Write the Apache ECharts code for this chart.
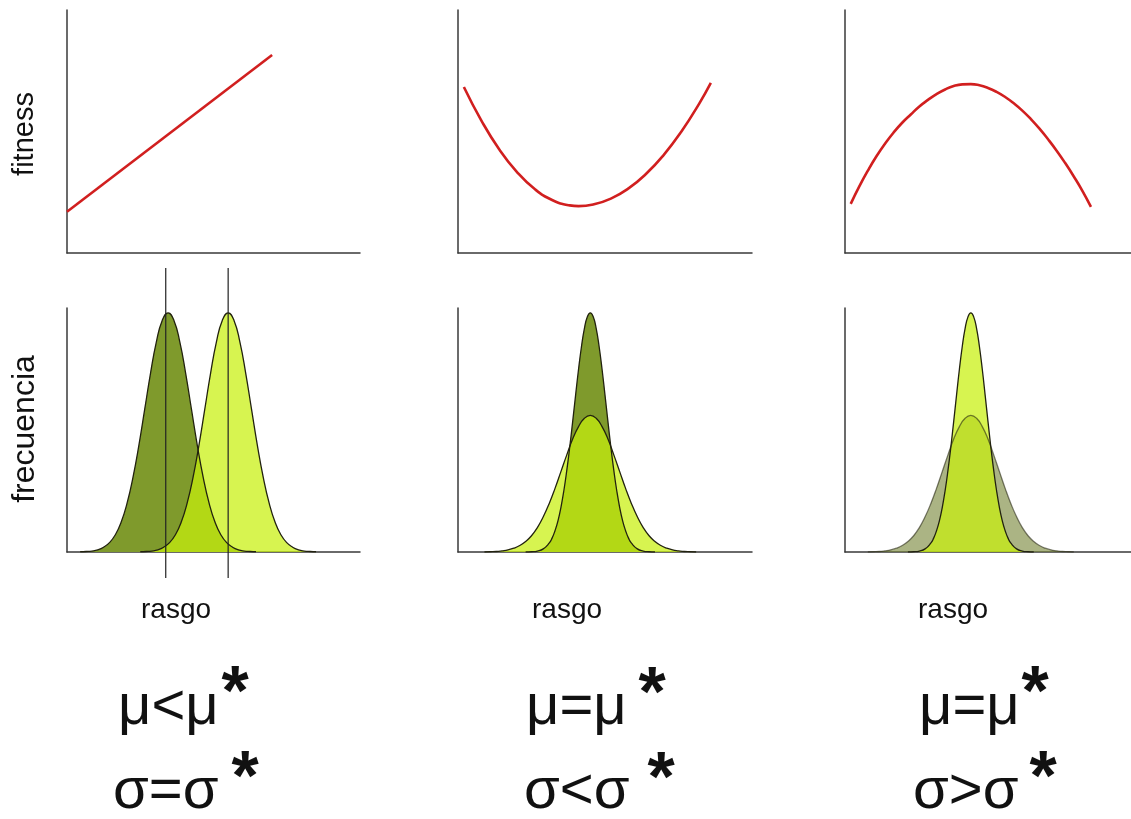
<!DOCTYPE html>
<html>
<head>
<meta charset="UTF-8">
<title>seleccion</title>
<script src="https://cdn.jsdelivr.net/npm/echarts@6/dist/echarts.min.js"></script>
<style>
  html, body { margin: 0; padding: 0; background: #fff; }
  #main { width: 1131px; height: 819px; }
</style>
</head>
<body>
<div id="main"></div>
<script>
// fila de arriba: fitness vs rasgo
var rasgoLineal = [0, 70];
var fitnessLineal = [17, 81.5];
var rasgoU = [2, 8, 14, 20, 26, 32, 38, 41, 46, 52, 58, 64, 70, 76, 82, 86];
var fitnessU = [68.3, 54.4, 42.7, 33.4, 26.4, 21.8, 19.6, 19.3, 20.0, 22.4, 26.6, 32.6, 40.4, 50.0, 61.4, 70.0];
var rasgoArco = [2, 5, 8, 11, 14, 17, 20, 23, 26, 29, 32, 35, 38, 41, 44, 47, 50, 53, 56, 59, 62, 65, 68, 71, 74, 77, 80, 83, 86];
var fitnessArco = [20.2, 27.4, 33.9, 39.8, 45.0, 49.6, 53.6, 57.0, 60.3, 63.0, 65.4, 67.3, 68.7, 69.4, 69.5, 69.0, 67.9, 66.3, 64.2, 61.6, 58.6, 55.1, 51.2, 46.8, 42.1, 37.0, 31.5, 25.6, 19.0];

// fila de abajo: frecuencia vs rasgo
var frecMedia = [0.1, 0.2, 0.4, 0.9, 2.0, 3.9, 7.2, 12.5, 20.4, 31.1, 44.4, 59.5, 74.7, 87.8, 96.8, 100,
                 96.8, 87.8, 74.7, 59.5, 44.4, 31.1, 20.4, 12.5, 7.2, 3.9, 2.0, 0.9, 0.4, 0.2, 0.1];
var rasgoOscura1 = [4.5, 6.5, 8.5, 10.5, 12.5, 14.5, 16.5, 18.5, 20.5, 22.5, 24.5, 26.5, 28.5, 30.5, 32.5, 34.5,
                    36.5, 38.5, 40.5, 42.5, 44.5, 46.5, 48.5, 50.5, 52.5, 54.5, 56.5, 58.5, 60.5, 62.5, 64.5];
var rasgoClara1 = [25, 27, 29, 31, 33, 35, 37, 39, 41, 43, 45, 47, 49, 51, 53, 55,
                   57, 59, 61, 63, 65, 67, 69, 71, 73, 75, 77, 79, 81, 83, 85];
var lineasMedia1 = [33.7, 55];

var frecEstrecha = [0, 0.1, 0.4, 1.3, 3.7, 5.8, 8.9, 13.0, 18.6, 25.6, 34.1, 43.8, 54.5, 65.6, 76.4, 85.9, 93.5, 98.3, 100,
                    98.3, 93.5, 85.9, 76.4, 65.6, 54.5, 43.8, 34.1, 25.6, 18.6, 13.0, 8.9, 5.8, 3.7, 1.3, 0.4, 0.1, 0];
var frecAncha = [0, 0.1, 0.2, 0.5, 0.9, 1.6, 2.7, 4.4, 6.8, 10.2, 14.7, 20.2, 26.6, 33.6, 40.6, 47.2, 52.4, 55.9, 57.1,
                 55.9, 52.4, 47.2, 40.6, 33.6, 26.6, 20.2, 14.7, 10.2, 6.8, 4.4, 2.7, 1.6, 0.9, 0.5, 0.2, 0.1, 0];
var rasgoEstrecha2 = [23, 25, 27, 29, 31, 32, 33, 34, 35, 36, 37, 38, 39, 40, 41, 42, 43, 44, 45,
                      46, 47, 48, 49, 50, 51, 52, 53, 54, 55, 56, 57, 58, 59, 61, 63, 65, 67];
var rasgoAncha2 = [9, 11, 13, 15, 17, 19, 21, 23, 25, 27, 29, 31, 33, 35, 37, 39, 41, 43, 45,
                   47, 49, 51, 53, 55, 57, 59, 61, 63, 65, 67, 69, 71, 73, 75, 77, 79, 81];
var rasgoEstrecha3 = [22, 24, 26, 28, 30, 31, 32, 33, 34, 35, 36, 37, 38, 39, 40, 41, 42, 43, 44,
                      45, 46, 47, 48, 49, 50, 51, 52, 53, 54, 55, 56, 57, 58, 60, 62, 64, 66];
var rasgoAncha3 = [8, 10, 12, 14, 16, 18, 20, 22, 24, 26, 28, 30, 32, 34, 36, 38, 40, 42, 44,
                   46, 48, 50, 52, 54, 56, 58, 60, 62, 64, 66, 68, 70, 72, 74, 76, 78, 80];

var oscuro = '#7f9a2c';
var claro = 'rgba(200,240,12,0.72)';
var oscuroTransp = 'rgba(115,130,50,0.6)';
var rojo = '#d11f1f';
var fuente = '"Liberation Sans", Arial, sans-serif';

function zip(xs, ys) {
  var out = [];
  for (var i = 0; i < xs.length; i++) out.push([xs[i], ys[i]]);
  return out;
}

var grids = [
  {left: 67, top: 10, width: 293, height: 243},
  {left: 458, top: 10, width: 294, height: 243},
  {left: 845, top: 10, width: 294, height: 243},
  {left: 67, top: 308, width: 293, height: 244},
  {left: 458, top: 308, width: 294, height: 244},
  {left: 845, top: 308, width: 294, height: 244},
  {left: 67, top: 268, width: 293, height: 310}
];
var ejeLinea = {show: true, onZero: false, lineStyle: {color: '#3a3a3a', width: 1.5}};

var xAxes = [], yAxes = [];
grids.forEach(function (g, i) {
  xAxes.push({gridIndex: i, type: 'value', min: 0, max: 100,
    axisLine: i < 6 ? ejeLinea : {show: false},
    axisTick: {show: false}, axisLabel: {show: false}, splitLine: {show: false}});
  yAxes.push({gridIndex: i, type: 'value', min: 0, max: i < 3 ? 100 : (i < 6 ? 102 : 1),
    axisLine: i < 6 ? ejeLinea : {show: false},
    axisTick: {show: false}, axisLabel: {show: false}, splitLine: {show: false}});
});

function rojaSerie(idx, xs, ys) {
  return {type: 'line', xAxisIndex: idx, yAxisIndex: idx, data: zip(xs, ys),
    smooth: true, symbol: 'none', lineStyle: {color: rojo, width: 2.6}};
}
function campana(idx, xs, ys, fill, borde) {
  return {type: 'line', xAxisIndex: idx, yAxisIndex: idx, data: zip(xs, ys),
    smooth: true, symbol: 'none',
    lineStyle: {color: borde || '#22220f', width: 1.3},
    areaStyle: {color: fill, opacity: 1}};
}

var series = [
  rojaSerie(0, rasgoLineal, fitnessLineal),
  rojaSerie(1, rasgoU, fitnessU),
  rojaSerie(2, rasgoArco, fitnessArco),
  campana(3, rasgoOscura1, frecMedia, oscuro),
  campana(3, rasgoClara1, frecMedia, claro),
  campana(4, rasgoEstrecha2, frecEstrecha, oscuro),
  campana(4, rasgoAncha2, frecAncha, claro),
  campana(5, rasgoAncha3, frecAncha, oscuroTransp, 'rgba(40,40,20,0.6)'),
  campana(5, rasgoEstrecha3, frecEstrecha, claro)
];
lineasMedia1.forEach(function (m) {
  series.push({type: 'line', xAxisIndex: 6, yAxisIndex: 6, data: [[m, 0], [m, 1]],
    symbol: 'none', lineStyle: {color: '#222', width: 1.2}});
});

function texto(t, x, y, size, opts) {
  opts = opts || {};
  return {type: 'text', x: x, y: y, rotation: opts.rot || 0, silent: true,
    style: {text: t, fill: '#111', font: (opts.bold ? 'bold ' : '') + size + 'px ' + fuente,
      align: opts.align || 'left', verticalAlign: 'middle'}};
}

var graphic = [
  texto('fitness', 25, 134, 29, {rot: Math.PI / 2, align: 'center'}),
  texto('frecuencia', 25, 429, 32, {rot: Math.PI / 2, align: 'center'}),
  texto('rasgo', 176, 610, 28, {align: 'center'}),
  texto('rasgo', 567, 610, 28, {align: 'center'}),
  texto('rasgo', 953, 610, 28, {align: 'center'}),

  texto('μ<μ', 118, 708, 58),
  texto('*', 235, 696, 70, {align: 'center', bold: true}),
  texto('σ=σ', 113, 792, 58),
  texto('*', 245, 781, 70, {align: 'center', bold: true}),

  texto('μ=μ', 526, 708, 58),
  texto('*', 652, 697, 70, {align: 'center', bold: true}),
  texto('σ<σ', 524, 792, 58),
  texto('*', 661, 782, 70, {align: 'center', bold: true}),

  texto('μ=μ', 919, 708, 58),
  texto('*', 1035, 696, 70, {align: 'center', bold: true}),
  texto('σ>σ', 913, 792, 58),
  texto('*', 1043, 781, 70, {align: 'center', bold: true})
];

var myChart = echarts.init(document.getElementById('main'));
myChart.setOption({
  animation: false,
  backgroundColor: '#fff',
  grid: grids,
  xAxis: xAxes,
  yAxis: yAxes,
  series: series,
  graphic: graphic
});
</script>
</body>
</html>
